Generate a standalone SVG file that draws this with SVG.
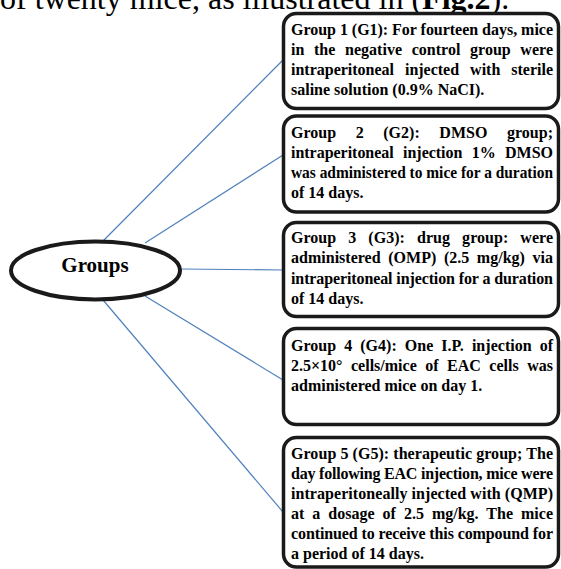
<svg xmlns="http://www.w3.org/2000/svg" width="561" height="569" viewBox="0 0 561 569">
<style>
.box{fill:#fff;stroke:#1a1a1a;stroke-width:3.5}
.t{font-family:"Liberation Serif","Times New Roman",serif;font-weight:bold;font-size:16px;fill:#000}
.c{stroke:#4f81bd;stroke-width:1.2;fill:none}
.head{font-family:"Liberation Serif","Times New Roman",serif;font-size:32px;fill:#000}
</style>
<rect width="561" height="569" fill="#fff"/>
<text class="head" x="0" y="9">of twenty mice, as illustrated in (<tspan font-weight="bold">Fig.2</tspan>).</text>
<g id="connectors">
<line class="c" x1="103" y1="241" x2="283" y2="60"/>
<line class="c" x1="145" y1="243" x2="283" y2="155"/>
<line class="c" x1="181" y1="269" x2="283" y2="270"/>
<line class="c" x1="145" y1="296" x2="283" y2="380"/>
<line class="c" x1="103" y1="300" x2="283" y2="512"/>
</g>
<g id="groups">
<ellipse cx="95.5" cy="270.5" rx="84.5" ry="29" fill="#fff" stroke="#1a1a1a" stroke-width="4"/>
<text x="95" y="272" text-anchor="middle" font-family="Liberation Serif, Times New Roman, serif" font-weight="bold" font-size="21">Groups</text>
</g>
<g id="g1">
<rect class="box" x="283.5" y="13.5" width="275" height="95" rx="13"/>
<text class="t" x="291" y="35" textLength="262" lengthAdjust="spacing">Group 1 (G1): For fourteen days, mice</text>
<text class="t" x="291" y="55" word-spacing="5.6" textLength="262" lengthAdjust="spacing">in the negative control group were</text>
<text class="t" x="291" y="75" word-spacing="7" textLength="262" lengthAdjust="spacing">intraperitoneal injected with sterile</text>
<text class="t" x="291" y="95">saline solution (0.9% NaCI).</text>
</g>
<g id="g2">
<rect class="box" x="283.5" y="116" width="275" height="96" rx="13"/>
<text class="t" x="291" y="138" word-spacing="15.5" textLength="262" lengthAdjust="spacing">Group 2 (G2): DMSO group;</text>
<text class="t" x="291" y="158" word-spacing="5.4" textLength="262" lengthAdjust="spacing">intraperitoneal injection 1% DMSO</text>
<text class="t" x="291" y="178" textLength="262" lengthAdjust="spacingAndGlyphs">was administered to mice for a duration</text>
<text class="t" x="291" y="198">of 14 days.</text>
</g>
<g id="g3">
<rect class="box" x="283.5" y="222.5" width="275" height="94" rx="13"/>
<text class="t" x="291" y="243" word-spacing="8" textLength="262" lengthAdjust="spacing">Group 3 (G3): drug group: were</text>
<text class="t" x="291" y="263" word-spacing="3.6" textLength="262" lengthAdjust="spacing">administered (OMP) (2.5 mg/kg) via</text>
<text class="t" x="291" y="284" textLength="262" lengthAdjust="spacing">intraperitoneal injection for a duration</text>
<text class="t" x="291" y="304">of 14 days.</text>
</g>
<g id="g4">
<rect class="box" x="283.5" y="328.5" width="275" height="96" rx="13"/>
<text class="t" x="291" y="351" word-spacing="4" textLength="262" lengthAdjust="spacing">Group 4 (G4): One I.P. injection of</text>
<text class="t" x="291" y="371" word-spacing="4.5" textLength="262" lengthAdjust="spacing">2.5×10° cells/mice of EAC cells was</text>
<text class="t" x="291" y="391">administered mice on day 1.</text>
</g>
<g id="g5">
<rect class="box" x="283.5" y="437.5" width="275" height="129.5" rx="13"/>
<text class="t" x="291" y="459" textLength="262" lengthAdjust="spacing">Group 5 (G5): therapeutic group; The</text>
<text class="t" x="291" y="479" textLength="262" lengthAdjust="spacing">day following EAC injection, mice were</text>
<text class="t" x="291" y="499" textLength="262" lengthAdjust="spacing">intraperitoneally injected with (QMP)</text>
<text class="t" x="291" y="519" word-spacing="4" textLength="262" lengthAdjust="spacing">at a dosage of 2.5 mg/kg. The mice</text>
<text class="t" x="291" y="539" textLength="262" lengthAdjust="spacing">continued to receive this compound for</text>
<text class="t" x="291" y="559">a period of 14 days.</text>
</g>
</svg>
